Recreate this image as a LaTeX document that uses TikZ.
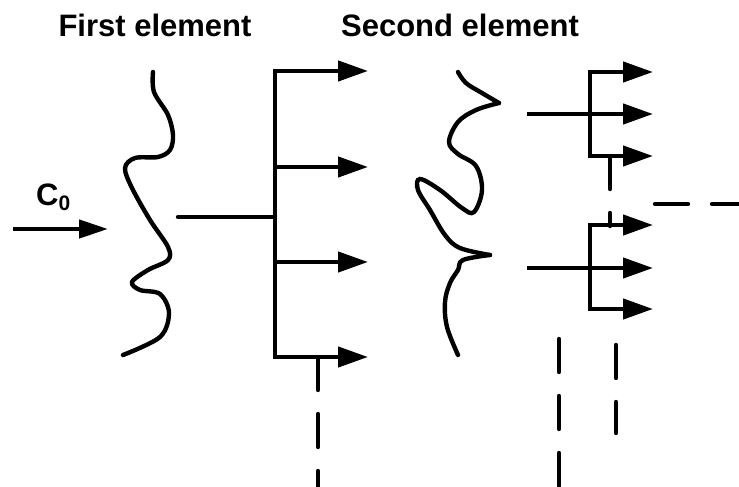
\documentclass[tikz,border=0pt]{standalone}
\usepackage{fontspec}
\setmainfont{Liberation Sans}
\usetikzlibrary{arrows.meta}

\tikzset{
  wire/.style = {line width=4.4pt, line cap=round},
  trunk/.style = {line width=4.4pt, line cap=rect},
  outarrow/.style = {line width=4.4pt, -{Triangle[length=30pt,width=20pt]}},
  dashline/.style = {line width=4.4pt, line cap=round, dash pattern=on 33pt off 24pt},
  title/.style = {font=\bfseries\fontsize{31}{36}\selectfont, anchor=base, inner sep=0pt},
}

\begin{document}
\begin{tikzpicture}
  [x = 1pt, y = -1pt]
  \useasboundingbox (0,0) rectangle (739,487);
  \node[title] (first) at (155,37) {First element};
  \node[title] (second) at (460,37) {Second element};
  % incoming signal
  \coordinate (in) at (13,229);
  \coordinate (inend) at (108,229);
  \node[title, anchor=base west] (c0) at (36,205) {C\raisebox{-5pt}{\fontsize{21}{21}\selectfont 0}};
  \draw[line width=4.4pt, -{Triangle[length=29pt,width=18pt]}] (in) -- (inend);
  % first element
  \draw[wire] plot[smooth, tension=0.55] coordinates {(153,72) (154,92) (168,115) (173,135) (170,150) (158,157) (135,158) (125,168) (132,188) (150,220) (168,247) (168,260) (148,270) (132,282) (140,290) (160,294) (169,313) (160,337) (123,355)};
  \coordinate (f1) at (178,217);
  \coordinate (f1t) at (275,217);
  \draw[wire] (f1) -- (f1t);
  \coordinate (t1top) at (275,71);
  \coordinate (t1bot) at (275,357);
  \draw[trunk] (t1top) -- (t1bot);
  \foreach \y [count=\i] in {71,167,262,357}{
    \coordinate (b\i) at (275,\y);
    \draw[outarrow] (b\i) -- ++(93,0);
  }
  \draw[dashline] (318,357) -- (318,490);
  % second element
  \draw[wire] plot[smooth, tension=0.6] coordinates {(458,72) (466,83) (482,93) (499,103)};
  \draw[wire] plot[smooth, tension=0.6] coordinates {(499,103) (476,110) (458,122) (449,142) (458,154) (476,166) (482,190) (474,212) (462,208) (440,190) (420,179) (418,190) (430,210) (445,235) (460,248) (490,255)};
  \draw[wire] plot[smooth, tension=0.6] coordinates {(490,255) (463,260) (458,270) (450,283) (445,302) (447,327) (458,355)};
  % small trees
  \foreach \top/\mid/\bot [count=\k] in {72/114/156, 225/268/309}{
    \coordinate (s\k top) at (590,\top);
    \coordinate (s\k bot) at (590,\bot);
    \coordinate (s\k in) at (527,\mid);
    \draw[trunk] (s\k top) -- (s\k bot);
    \draw[outarrow] (s\k in) -- (653,\mid);
    \draw[outarrow] (s\k top) -- (653,\top);
    \draw[outarrow] (s\k bot) -- (653,\bot);
  }
  \draw[dashline] (610,156) -- (610,226);
  \draw[dashline] (655,204) -- (745,204);
  \draw[dashline] (559,339) -- (559,490);
  \draw[dashline] (616,345) -- (616,433);
\end{tikzpicture}
\end{document}
